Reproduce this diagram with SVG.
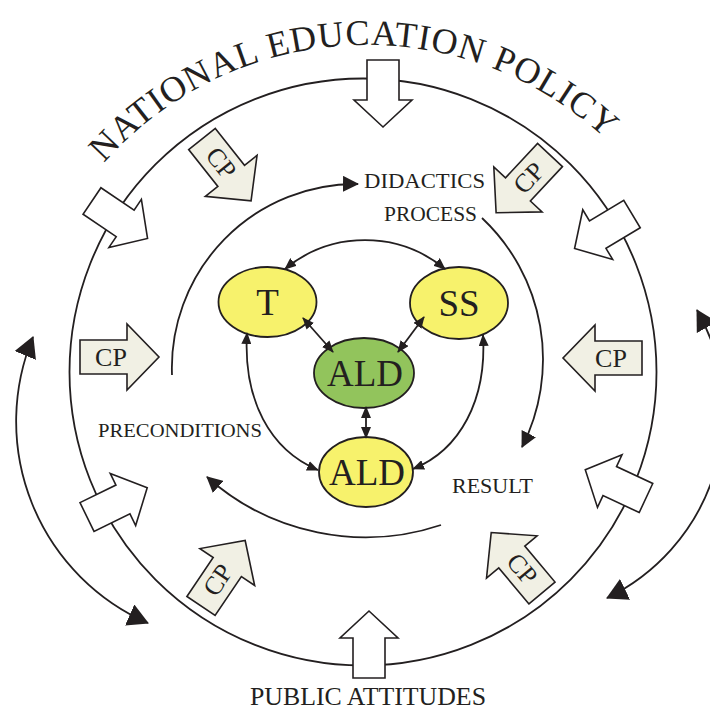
<svg xmlns="http://www.w3.org/2000/svg" width="710" height="709" viewBox="0 0 710 709">
<style>
.ln{fill:none;stroke:#231f20;stroke-width:1.8}
.wa{fill:#fff;stroke:#231f20;stroke-width:1.6}
.cp{fill:#f1f0e4;stroke:#231f20;stroke-width:1.6}
.cpt{font-family:"Liberation Serif",serif;font-size:26px;fill:#231f20;text-anchor:middle}
.lbl{font-family:"Liberation Serif",serif;fill:#231f20}
.ny{fill:#f7f26c;stroke:#231f20;stroke-width:1.8}
.ng{fill:#92c45c;stroke:#231f20;stroke-width:1.8}
.nt{font-family:"Liberation Serif",serif;font-size:37px;fill:#231f20;text-anchor:middle}
.title{font-family:"Liberation Serif",serif;font-size:36px;fill:#231f20;letter-spacing:1px}
</style>
<defs>
<marker id="ms" viewBox="0 0 12 10" refX="11" refY="5" markerWidth="12" markerHeight="10" markerUnits="userSpaceOnUse" orient="auto-start-reverse"><path d="M0,0 L12,5 L0,10 z" fill="#231f20"/></marker>
<marker id="mm" viewBox="0 0 16 16" refX="15" refY="8" markerWidth="16" markerHeight="16" markerUnits="userSpaceOnUse" orient="auto-start-reverse"><path d="M0,0 L16,8 L0,16 z" fill="#231f20"/></marker>
<marker id="ml" viewBox="0 0 21 23" refX="20" refY="11.5" markerWidth="21" markerHeight="23" markerUnits="userSpaceOnUse" orient="auto-start-reverse"><path d="M0,0 L21,11.5 L0,23 z" fill="#231f20"/></marker>
<polygon id="wa" points="0,-16 40,-16 40,-29 67,0 40,29 40,16 0,16"/>
<polygon id="cpa" points="0,-17 47,-17 47,-33 79,0 47,33 47,17 0,17"/>
<path id="titlePath" d="M104,163 A351,351 0 0 1 614,147"/>
</defs>

<g id="title">
<text class="title"><textPath href="#titlePath">NATIONAL EDUCATION POLICY</textPath></text>
</g>

<g id="policy-circle">
<circle class="ln" cx="363" cy="372" r="293.5"/>
</g>

<g id="outer-feedback">
<path class="ln" d="M33,337 A220,220 0 0 0 148,623" marker-start="url(#ml)" marker-end="url(#ml)"/>
<path class="ln" d="M697,310 A207,207 0 0 1 607,598" marker-start="url(#ml)" marker-end="url(#ml)"/>
</g>

<g id="white-arrows">
<use href="#wa" class="wa" transform="translate(383,60) rotate(90)"/>
<use href="#wa" class="wa" transform="translate(369,678) rotate(-90)"/>
<use href="#wa" class="wa" transform="translate(92,201) rotate(34)"/>
<use href="#wa" class="wa" transform="translate(632,214) rotate(149)"/>
<use href="#wa" class="wa" transform="translate(87,517) rotate(-26)"/>
<use href="#wa" class="wa" transform="translate(646,498) rotate(-155)"/>
</g>

<g id="cp-arrows">
<g id="cp-left"><use href="#cpa" class="cp" transform="translate(80,357)"/><text class="cpt" transform="translate(111,357)" y="8.5">CP</text></g>
<g id="cp-right"><use href="#cpa" class="cp" transform="translate(642,358) rotate(180)"/><text class="cpt" transform="translate(611,358)" y="8.5">CP</text></g>
<g id="cp-upper-left"><use href="#cpa" class="cp" transform="translate(202,139) rotate(51.6)"/><text class="cpt" transform="translate(221,163) rotate(51.6)" y="8.5">CP</text></g>
<g id="cp-upper-right"><use href="#cpa" class="cp" transform="translate(550,155) rotate(133)"/><text class="cpt" transform="translate(529,178) rotate(-47)" y="8.5">CP</text></g>
<g id="cp-lower-left"><use href="#cpa" class="cp" transform="translate(201,606) rotate(-56)"/><text class="cpt" transform="translate(218,580) rotate(-56)" y="8.5">CP</text></g>
<g id="cp-lower-right"><use href="#cpa" class="cp" transform="translate(542,593) rotate(-130)"/><text class="cpt" transform="translate(522,569) rotate(50)" y="8.5">CP</text></g>
</g>

<g id="didactic-cycle">
<path class="ln" d="M172,375 A184,184 0 0 1 358,184" marker-end="url(#mm)"/>
<path class="ln" d="M482,218 A194,194 0 0 1 522,447" marker-end="url(#mm)"/>
<path class="ln" d="M441,525 A238,238 0 0 1 207,477" marker-end="url(#mm)"/>
</g>

<g id="labels">
<text class="lbl" x="364" y="188" font-size="20" textLength="121" lengthAdjust="spacingAndGlyphs">DIDACTICS</text>
<text class="lbl" x="384" y="221" font-size="20" textLength="93" lengthAdjust="spacingAndGlyphs">PROCESS</text>
<text class="lbl" x="98" y="437" font-size="19" textLength="164" lengthAdjust="spacingAndGlyphs">PRECONDITIONS</text>
<text class="lbl" x="452" y="493" font-size="20" textLength="81" lengthAdjust="spacingAndGlyphs">RESULT</text>
<text class="lbl" x="250" y="705" font-size="25" textLength="236" lengthAdjust="spacingAndGlyphs">PUBLIC ATTITUDES</text>
</g>

<g id="node-T"><ellipse class="ny" cx="267.5" cy="302" rx="49" ry="35"/><text class="nt" x="267.5" y="315">T</text></g>
<g id="node-SS"><ellipse class="ny" cx="459" cy="303" rx="49" ry="36"/><text class="nt" x="459" y="316">SS</text></g>
<g id="node-ALD-center"><ellipse class="ng" cx="364" cy="373" rx="50" ry="35"/><text class="nt" x="365" y="386">ALD</text></g>
<g id="node-ALD-bottom"><ellipse class="ny" cx="366" cy="472" rx="47" ry="35"/><text class="nt" x="367" y="485">ALD</text></g>

<g id="connectors">
<path class="ln" d="M285,269 A125,125 0 0 1 445,269" marker-start="url(#ms)" marker-end="url(#ms)"/>
<path class="ln" d="M303,318 L333,352" marker-start="url(#ms)" marker-end="url(#ms)"/>
<path class="ln" d="M424,317 L398,352" marker-start="url(#ms)" marker-end="url(#ms)"/>
<path class="ln" d="M366,407 L366,438" marker-start="url(#ms)" marker-end="url(#ms)"/>
<path class="ln" d="M247,333 C243,400 270,450 318,470" marker-start="url(#ms)" marker-end="url(#ms)"/>
<path class="ln" d="M483,335 C487,400 460,450 413,469" marker-start="url(#ms)" marker-end="url(#ms)"/>
</g>
</svg>
